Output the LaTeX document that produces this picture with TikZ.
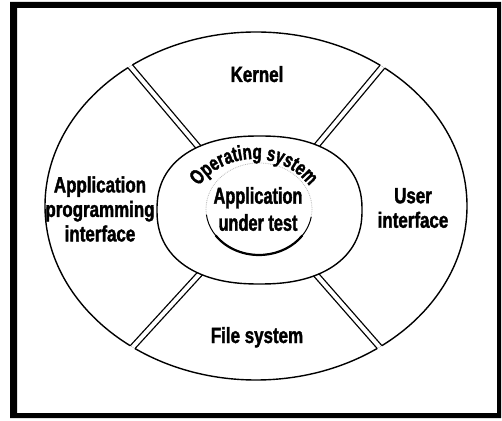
\documentclass[tikz,border=0pt]{standalone}
\usepackage{fontspec}
\usetikzlibrary{calc,decorations.text}
\newfontfamily\labelfont[FakeStretch=0.77, FakeBold=1.6]{Liberation Sans Bold}
\newfontfamily\autfont[FakeStretch=0.71, FakeBold=1.6]{Liberation Sans Bold}
\newfontfamily\osfont[FakeStretch=0.72, FakeBold=1.6]{Liberation Sans Bold}
\begin{document}
\begin{tikzpicture}[x=1pt,y=1pt,
  ringline/.style={line width=1.4pt},
  cutgap/.style={white, line width=5pt},
  cutedge/.style={line width=1.3pt, double=white, double distance=4pt},
  sectorlabel/.style={align=center, inner sep=0pt,
    font=\labelfont\fontsize{22}{24.5}\selectfont},
  autlabel/.style={align=center, inner sep=0pt,
    font=\autfont\fontsize{23}{27}\selectfont}]
\useasboundingbox (0,0) rectangle (502,420);
\fill[white] (0,0) rectangle (502,420);
% heavy frame
\fill[even odd rule] (10,2) rectangle (501,418) (17,7) rectangle (497,412);

% outer ring
\coordinate (ring) at (256,214);
\draw[ringline] (ring) ellipse [x radius=211, y radius=174];

% ends of the four cuts between the sectors
\coordinate (tlIn) at (195,277); \coordinate (tlOut) at (130,354);
\coordinate (trIn) at (318,276); \coordinate (trOut) at (383,354);
\coordinate (blIn) at (195,141); \coordinate (blOut) at (130,70);
\coordinate (brIn) at (319,142); \coordinate (brOut) at (383,69);

% open the gaps in the ring outline
\begin{scope}
  \clip (ring) ellipse [x radius=215, y radius=178];
  \foreach \cutname in {tl,tr,bl,br}
    \draw[cutgap] ($(\cutname In)!-0.6!(\cutname Out)$) -- ($(\cutname In)!1.3!(\cutname Out)$);
\end{scope}
% edges of the gaps
\begin{scope}
  \clip (ring) ellipse [x radius=211, y radius=174];
  \foreach \cutname in {tl,tr,bl,br}
    \draw[cutedge] ($(\cutname In)!-0.6!(\cutname Out)$) -- ($(\cutname In)!1.3!(\cutname Out)$);
\end{scope}

% operating system core
\draw[ringline, fill=white] plot[domain=1:361, samples=121, variable=\t]
  ({259.5+102.5*sign(cos(\t))*abs(cos(\t))^0.8696},
   {210+74*sign(sin(\t))*abs(sin(\t))^0.8696}) -- cycle;

% application under test
\coordinate (aut) at (259,211);
\draw[gray!55, densely dotted, line width=0.8pt]
  ($(aut)+(-10:53 and 46)$) arc[start angle=-10, end angle=187, x radius=53, y radius=46];
\draw[line width=1pt]
  ($(aut)+(187:53 and 46)$) arc[start angle=187, end angle=350, x radius=53, y radius=46];
\draw[line width=2.2pt]
  ($(aut)+(215:53 and 46)$) arc[start angle=215, end angle=325, x radius=53, y radius=46];

% curved caption of the core
\coordinate (osc) at (254,191);
\path[decorate, decoration={text along path, text align=center,
    text={|\osfont\fontsize{21}{21}\selectfont|Operating system}}]
  ($(osc)+(175:70)$) arc[start angle=175, end angle=5, radius=70];

% sector labels
\node[sectorlabel, anchor=base] (kernel) at (257,338) {Kernel};
\node[sectorlabel, anchor=base] (files) at (257,77) {File system};
\node[sectorlabel] (api) at (100,211) {Application\\programming\\interface};
\node[sectorlabel] (ui) at (413,212) {User\\interface};
\node[autlabel] (autl) at (258,211) {Application\\under test};
\end{tikzpicture}
\end{document}
